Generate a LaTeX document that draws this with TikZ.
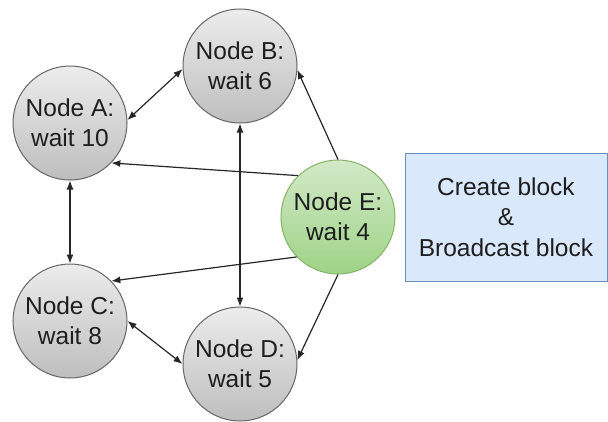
\documentclass[tikz,border=0pt]{standalone}
\usepackage{fontspec}
\setmainfont{Liberation Sans}
\usetikzlibrary{arrows.meta}
\definecolor{grayTop}{HTML}{ECECEC}
\definecolor{grayBot}{HTML}{BEBEBE}
\definecolor{grayLine}{HTML}{666666}
\definecolor{greenTop}{HTML}{D2E9C8}
\definecolor{greenBot}{HTML}{9ED386}
\definecolor{greenLine}{HTML}{82B366}
\definecolor{blueFill}{HTML}{DAE8FC}
\definecolor{blueLine}{HTML}{6C8EBF}
\definecolor{txt}{HTML}{1E1E1E}
\tikzset{
  peer/.style={circle, draw=grayLine, line width=1pt, top color=grayTop, bottom color=grayBot,
    minimum size=114pt, inner sep=0pt, align=center, text=txt,
    font=\fontsize{24.5}{30}\selectfont},
  miner/.style={peer, draw=greenLine, top color=greenTop, bottom color=greenBot},
  note/.style={draw=blueLine, line width=1pt, fill=blueFill, align=center, text=txt,
    minimum width=202pt, minimum height=128pt, inner sep=0pt,
    font=\fontsize{24.5}{30.5}\selectfont},
  link/.style={line width=1.2pt, black!85, -{Latex[length=9pt,width=7pt]}},
  both/.style={link, {Latex[length=9pt,width=7pt]}-{Latex[length=9pt,width=7pt]}}
}
\begin{document}
\begin{tikzpicture}[x=1pt,y=-1pt]
\useasboundingbox (0,0) rectangle (608,421);
\node[peer] (A) at (70,123) {Node A:\\wait 10};
\node[peer] (B) at (240,66) {Node B:\\wait 6};
\node[peer] (C) at (70,321) {Node C:\\wait 8};
\node[peer] (D) at (240,364) {Node D:\\wait 5};
\node[miner] (E) at (338,217) {Node E:\\wait 4};
\node[note] (N) at (506,217) {Create block\\\&\\Broadcast block};
\draw[both] (A.3) -- (B.183);
\draw[both] (A.south) -- (C.north);
\draw[both] (B.south) -- (D.north);
\draw[both] (C.east) -- (D.west);
\draw[link] (E.north) -- (B.-4);
\draw[link] (E.134) -- (A.-44);
\draw[link] (E.224) -- (C.44);
\draw[link] (E.south) -- (D.4);
\end{tikzpicture}
\end{document}
